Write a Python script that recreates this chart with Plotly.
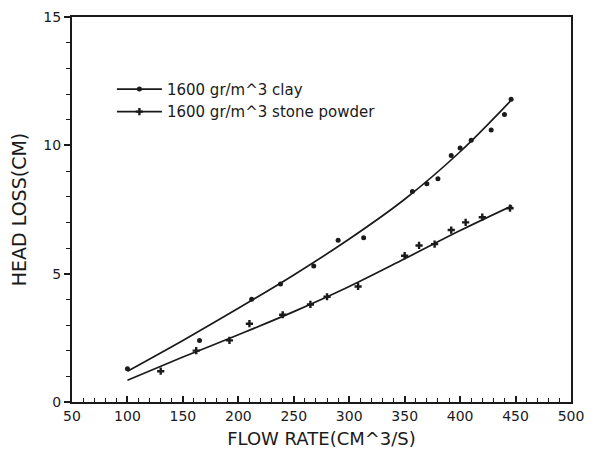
import plotly.graph_objects as go

# Measured points
clay_x = [100, 165, 212, 238, 268, 290, 313, 357, 370, 380, 392, 400, 410, 428, 440, 446]
clay_y = [1.3, 2.4, 4.0, 4.6, 5.3, 6.3, 6.4, 8.2, 8.5, 8.7, 9.6, 9.9, 10.2, 10.6, 11.2, 11.8]

stone_x = [130, 162, 192, 210, 240, 265, 280, 308, 350, 363, 377, 392, 405, 420, 445]
stone_y = [1.2, 2.0, 2.4, 3.05, 3.4, 3.8, 4.1, 4.5, 5.7, 6.1, 6.15, 6.7, 7.0, 7.2, 7.55]

# Fitted curves
fit_x = [100, 150, 200, 250, 300, 350, 400, 447]
clay_fit_y = [1.2, 2.4, 3.65, 4.95, 6.35, 7.9, 9.75, 11.8]
stone_fit_y = [0.85, 1.75, 2.62, 3.52, 4.5, 5.58, 6.68, 7.65]

x_ticks = [50, 100, 150, 200, 250, 300, 350, 400, 450, 500]
y_ticks = [0, 5, 10, 15]

INK = "#1a1a1a"
FONT = "DejaVu Sans"

fig = go.Figure()

fig.add_trace(go.Scatter(x=fit_x, y=clay_fit_y, mode="lines", line=dict(color=INK, width=1.7, shape="spline"),
                         showlegend=False, hoverinfo="skip"))
fig.add_trace(go.Scatter(x=fit_x, y=stone_fit_y, mode="lines", line=dict(color=INK, width=1.7, shape="spline"),
                         showlegend=False, hoverinfo="skip"))
fig.add_trace(go.Scatter(x=clay_x, y=clay_y, mode="markers", marker=dict(color=INK, size=5, symbol="circle"),
                         showlegend=False))
fig.add_trace(go.Scatter(x=stone_x, y=stone_y, mode="markers", marker=dict(color=INK, size=6, symbol="cross"),
                         showlegend=False))

# legend entries
fig.add_trace(go.Scatter(x=[None], y=[None], mode="lines+markers", name="1600 gr/m^3 clay",
                         line=dict(color=INK, width=1.7), marker=dict(color=INK, size=5, symbol="circle")))
fig.add_trace(go.Scatter(x=[None], y=[None], mode="lines+markers", name="1600 gr/m^3 stone powder",
                         line=dict(color=INK, width=1.7), marker=dict(color=INK, size=6, symbol="cross")))

fig.update_layout(
    width=594, height=462,
    margin=dict(l=64, r=31, t=9, b=68),
    paper_bgcolor="white", plot_bgcolor="white",
    font=dict(family=FONT, color=INK, size=14),
    showlegend=True,
    legend=dict(x=0.08, y=0.855, xanchor="left", yanchor="top", bgcolor="rgba(0,0,0,0)",
                font=dict(size=15, family=FONT), tracegroupgap=0, itemwidth=45),
    xaxis=dict(range=[50, 500], tickvals=x_ticks, ticks="inside", ticklen=6, tickwidth=1.5, tickcolor=INK,
               minor=dict(dtick=10, ticks="inside", ticklen=4, tickcolor=INK, tickwidth=1.2),
               showline=True, linecolor=INK, linewidth=2, mirror=True, showgrid=False, zeroline=False,
               tickfont=dict(size=14), automargin=False,
               title=dict(text="FLOW RATE(CM^3/S)", font=dict(size=18), standoff=10)),
    yaxis=dict(range=[0, 15], tickvals=y_ticks, ticks="outside", ticklen=6, tickwidth=1.5, tickcolor=INK,
               minor=dict(dtick=1, ticks="outside", ticklen=4, tickcolor=INK, tickwidth=1.2),
               showline=True, linecolor=INK, linewidth=2, mirror=True, showgrid=False, zeroline=False,
               tickfont=dict(size=14), automargin=False,
               title=dict(text="HEAD LOSS(CM)", font=dict(size=19), standoff=12)),
)

fig.write_html("out.html")
